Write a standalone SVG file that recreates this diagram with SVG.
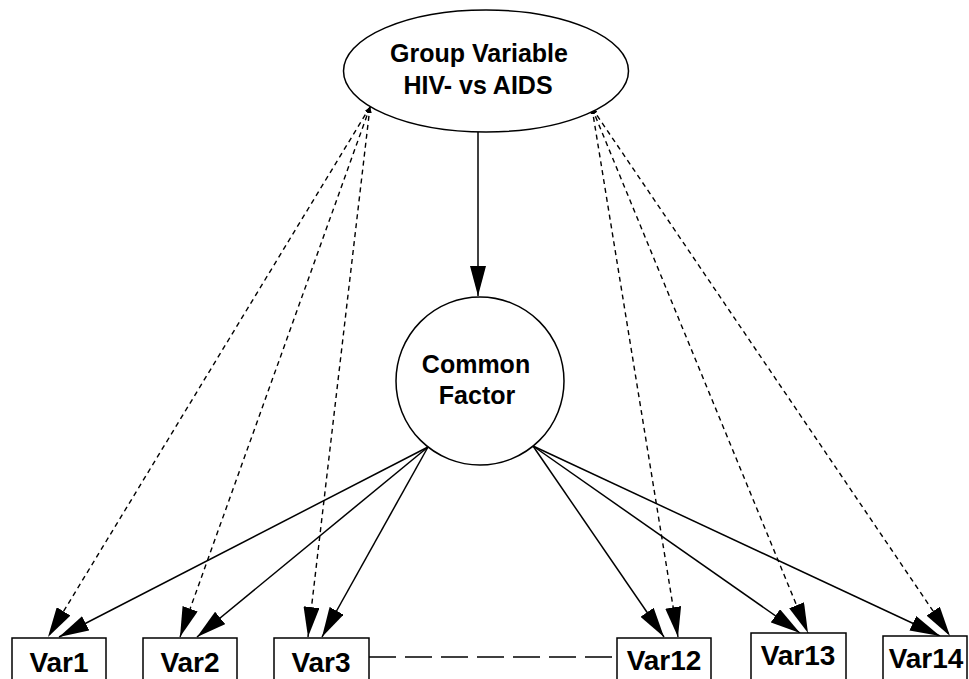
<svg xmlns="http://www.w3.org/2000/svg" width="969" height="679" viewBox="0 0 969 679">
<style>
text{font-family:"Liberation Sans",Arial,Helvetica,sans-serif;font-weight:bold;fill:#000;text-anchor:middle}
.shape{fill:#fff;stroke:#000;stroke-width:1.5}
.solid{stroke:#000;stroke-width:1.5;fill:none}
.dash{stroke:#000;stroke-width:1.4;fill:none;stroke-dasharray:5 4}
.corr{stroke:#000;stroke-width:1.4;fill:none;stroke-dasharray:27 9}
</style>
<defs>
<marker id="ah" markerUnits="userSpaceOnUse" markerWidth="30" markerHeight="16" refX="30" refY="8" orient="auto" viewBox="0 0 30 16">
<path d="M0,0 L30,8 L0,16 z" fill="#000" stroke="none"/>
</marker>
<marker id="sm" markerUnits="userSpaceOnUse" markerWidth="6" markerHeight="5" refX="6" refY="2.5" orient="auto-start-reverse" viewBox="0 0 6 5">
<path d="M0,0 L6,2.5 L0,5 z" fill="#000" stroke="none"/>
</marker>
</defs>
<g id="connectors">
<line class="solid" x1="478" y1="132" x2="478" y2="296" marker-end="url(#ah)"/>
<line class="solid" x1="428" y1="447" x2="59" y2="637" marker-end="url(#ah)"/>
<line class="solid" x1="428" y1="447" x2="197" y2="637" marker-end="url(#ah)"/>
<line class="solid" x1="428" y1="447" x2="322" y2="637" marker-end="url(#ah)"/>
<line class="solid" x1="533" y1="446" x2="664" y2="637" marker-end="url(#ah)"/>
<line class="solid" x1="533" y1="446" x2="800" y2="633" marker-end="url(#ah)"/>
<line class="solid" x1="533" y1="446" x2="940" y2="636" marker-end="url(#ah)"/>
<line class="dash" x1="370" y1="107" x2="48" y2="637" marker-start="url(#sm)" marker-end="url(#ah)"/>
<line class="dash" x1="370" y1="107" x2="180" y2="637" marker-start="url(#sm)" marker-end="url(#ah)"/>
<line class="dash" x1="370" y1="107" x2="308" y2="637" marker-start="url(#sm)" marker-end="url(#ah)"/>
<line class="dash" x1="592" y1="108" x2="678" y2="637" marker-start="url(#sm)" marker-end="url(#ah)"/>
<line class="dash" x1="592" y1="108" x2="808" y2="633" marker-start="url(#sm)" marker-end="url(#ah)"/>
<line class="dash" x1="592" y1="108" x2="950" y2="636" marker-start="url(#sm)" marker-end="url(#ah)"/>
<line class="corr" x1="369" y1="657" x2="617" y2="657"/>
</g>
<g id="group">
<ellipse class="shape" cx="486" cy="71" rx="142.5" ry="61"/>
<text x="479" y="62" font-size="25">Group Variable</text>
<text x="478" y="94" font-size="25">HIV- vs AIDS</text>
</g>
<g id="factor">
<circle class="shape" cx="480" cy="381" r="84"/>
<text x="476" y="373" font-size="25">Common</text>
<text x="477" y="404" font-size="25">Factor</text>
</g>
<g id="var1"><rect class="shape" x="12" y="638" width="94" height="60"/><text x="59" y="672" font-size="28">Var1</text></g>
<g id="var2"><rect class="shape" x="143" y="638" width="94" height="60"/><text x="190" y="672" font-size="28">Var2</text></g>
<g id="var3"><rect class="shape" x="274" y="638" width="95" height="60"/><text x="321" y="672" font-size="28">Var3</text></g>
<g id="var12"><rect class="shape" x="617" y="638" width="94" height="60"/><text x="664" y="670" font-size="28">Var12</text></g>
<g id="var13"><rect class="shape" x="751" y="633" width="95" height="60"/><text x="798" y="665" font-size="28">Var13</text></g>
<g id="var14"><rect class="shape" x="883" y="636" width="84" height="60"/><text x="926" y="668" font-size="28">Var14</text></g>
</svg>
